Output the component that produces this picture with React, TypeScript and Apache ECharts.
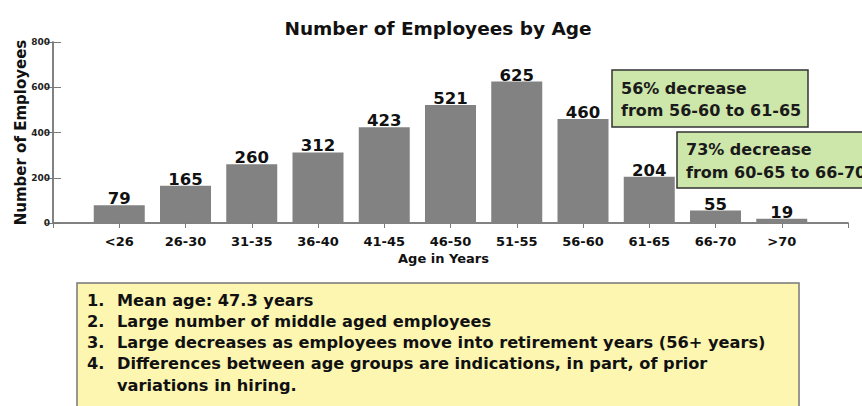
import React, { useEffect, useRef } from "react";
import * as echarts from "echarts";

const categories = ["<26", "26-30", "31-35", "36-40", "41-45", "46-50", "51-55", "56-60", "61-65", "66-70", ">70"];
const employees = [79, 165, 260, 312, 423, 521, 625, 460, 204, 55, 19];
const yTicks = [0, 200, 400, 600, 800];
const box1Lines = ["56% decrease", "from 56-60 to 61-65"];
const box2Lines = ["73% decrease", "from 60-65 to 66-70"];
const noteNumbers = ["1.", "2.", "3.", "4.", ""];
const noteLines = [
  "Mean age: 47.3 years",
  "Large number of middle aged employees",
  "Large decreases as employees move into retirement years (56+ years)",
  "Differences between age groups are indications, in part, of prior",
  "variations in hiring.",
];

const CHART_FONT = "'DejaVu Sans', sans-serif";
const NOTE_FONT = "'DejaVu Sans', sans-serif";
const FRAME = "#7a7a7a";

export default function App() {
  const ref = useRef<HTMLDivElement>(null);

  useEffect(() => {
    document.body.style.margin = "0";
    if (!ref.current) return;
    const chart = echarts.init(ref.current, undefined, { renderer: "svg" });

    const yMin = yTicks[0];
    const yMax = yTicks[yTicks.length - 1];
    const yInterval = yTicks[1] - yTicks[0];

    const noteGraphics: any[] = [];
    noteLines.forEach((line, i) => {
      const y = 300 + i * 21.3;
      if (noteNumbers[i]) {
        noteGraphics.push({
          type: "text",
          x: 87,
          y,
          style: { text: noteNumbers[i], font: `bold 16.2px ${NOTE_FONT}`, fill: "#111", verticalAlign: "middle" },
        });
      }
      noteGraphics.push({
        type: "text",
        x: 117,
        y,
        style: { text: line, font: `bold 16.2px ${NOTE_FONT}`, fill: "#111", verticalAlign: "middle" },
      });
    });

    const boxText = (lines: string[], x: number, y0: number, gap: number) =>
      lines.map((t, i) => ({
        type: "text",
        x,
        y: y0 + i * gap,
        z: 101,
        style: { text: t, font: `bold 16px ${CHART_FONT}`, fill: "#1a1a1a", verticalAlign: "middle" },
      }));

    chart.setOption({
      animation: false,
      backgroundColor: "#ffffff",
      title: {
        text: "Number of Employees by Age",
        left: 433,
        textAlign: "center",
        top: 14,
        textStyle: { fontFamily: CHART_FONT, fontWeight: "bold", fontSize: 18.5, color: "#111" },
      },
      grid: { left: 53, right: 14, top: 42, bottom: 183 },
      xAxis: [
        {
          type: "value",
          min: 0,
          max: categories.length + 1,
          interval: 1,
          position: "bottom",
          splitLine: { show: false },
          axisLine: { show: true, lineStyle: { color: FRAME, width: 1.5 } },
          axisTick: { show: false },
          axisLabel: {
            formatter: (v: number) => categories[v - 1] ?? "",
            fontFamily: CHART_FONT,
            fontWeight: "bold",
            fontSize: 13,
            color: "#111",
            margin: 12,
          },
          name: "Age in Years",
          nameLocation: "middle",
          nameGap: 29,
          nameMoveOverlap: false,
          nameTextStyle: { fontFamily: CHART_FONT, fontWeight: "bold", fontSize: 13, color: "#111", padding: [0, 0, 0, -14] },
        },
        {
          type: "value",
          min: 0,
          max: categories.length + 1,
          interval: 1,
          position: "top",
          splitLine: { show: false },
          axisLine: { show: true, lineStyle: { color: FRAME, width: 1.5 } },
          axisTick: { show: true, inside: true, length: 5, lineStyle: { color: FRAME } },
          axisLabel: { show: false },
        },
      ],
      yAxis: [
        {
          type: "value",
          min: yMin,
          max: yMax,
          interval: yInterval,
          position: "left",
          splitLine: { show: false },
          axisLine: { show: true, lineStyle: { color: FRAME, width: 1.5 } },
          axisTick: { show: true, inside: true, length: 8, lineStyle: { color: FRAME } },
          axisLabel: { fontFamily: CHART_FONT, fontWeight: "bold", fontSize: 9, color: "#222", margin: 3 },
          name: "Number of Employees",
          nameLocation: "middle",
          nameRotate: 90,
          nameGap: 25,
          nameMoveOverlap: false,
          nameTextStyle: { fontFamily: CHART_FONT, fontWeight: "bold", fontSize: 15, color: "#111" },
        },
        {
          type: "value",
          min: yMin,
          max: yMax,
          interval: yInterval,
          position: "right",
          splitLine: { show: false },
          axisLine: { show: true, lineStyle: { color: FRAME, width: 1.5 } },
          axisTick: { show: true, inside: true, length: 8, lineStyle: { color: FRAME } },
          axisLabel: { show: false },
        },
      ],
      series: [
        {
          type: "bar",
          xAxisIndex: 0,
          yAxisIndex: 0,
          barWidth: 51,
          data: employees.map((v, i) => [i + 1, v]),
          itemStyle: { color: "#828282" },
          label: {
            show: true,
            position: "top",
            distance: -2,
            formatter: (p: any) => String(p.value[1]),
            fontFamily: CHART_FONT,
            fontWeight: "bold",
            fontSize: 16.5,
            color: "#111",
          },
        },
      ],
      graphic: [
        {
          type: "rect",
          z: 100,
          shape: { x: 612, y: 70, width: 196, height: 57 },
          style: { fill: "#cde6aa", stroke: "#333", lineWidth: 1.5 },
        },
        ...boxText(box1Lines, 621, 88, 22),
        {
          type: "rect",
          z: 100,
          shape: { x: 677, y: 132, width: 200, height: 56 },
          style: { fill: "#cde6aa", stroke: "#333", lineWidth: 1.5 },
        },
        ...boxText(box2Lines, 686, 149, 23),
        {
          type: "rect",
          z: 100,
          shape: { x: 77, y: 283, width: 722, height: 140 },
          style: { fill: "#fcf6b1", stroke: "#777", lineWidth: 1.5 },
        },
        ...noteGraphics.map((g) => ({ ...g, z: 101 })),
      ],
    });

    return () => chart.dispose();
  }, []);

  return <div ref={ref} style={{ width: 862, height: 406 }} />;
}
